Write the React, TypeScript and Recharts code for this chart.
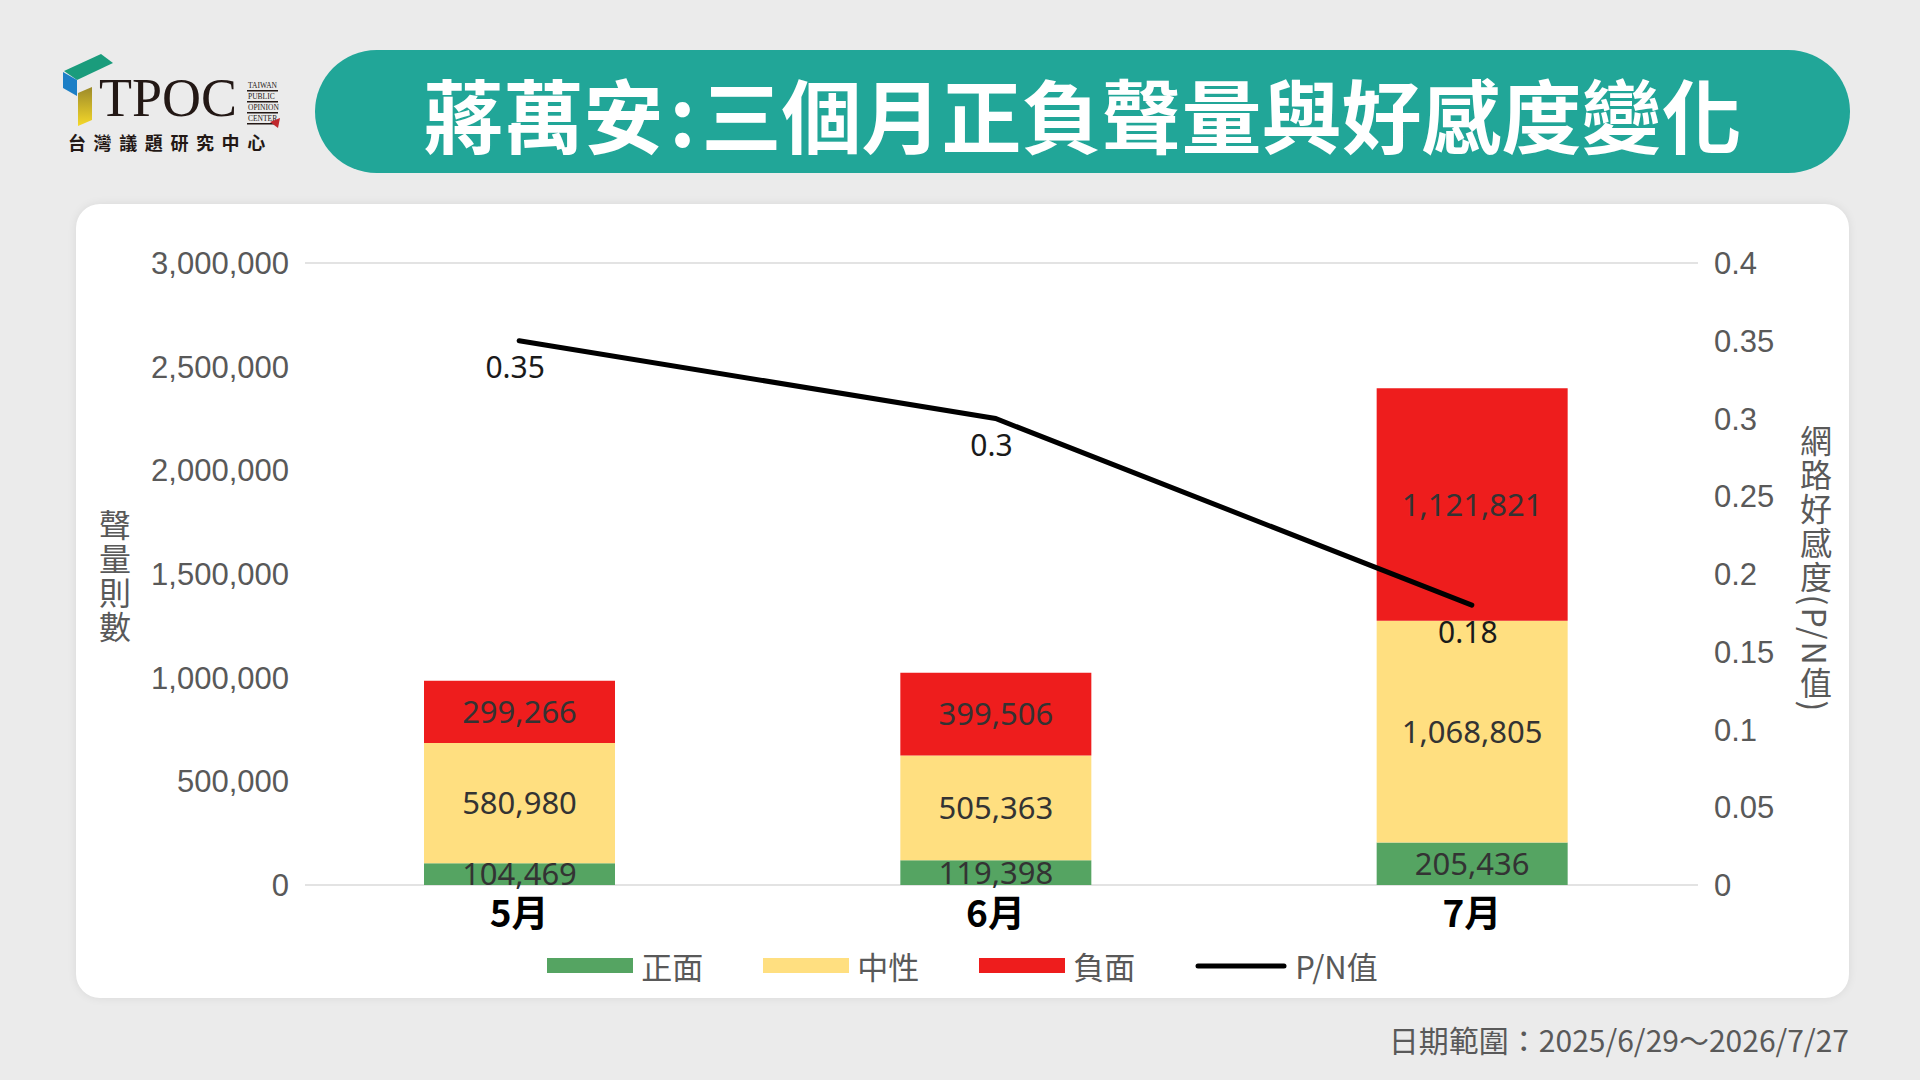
import React from 'react';
import { ComposedChart, Bar, Line, XAxis, YAxis, CartesianGrid, Legend, LabelList } from 'recharts';

const months = ['5月', '6月', '7月'];
const positive = [104469, 119398, 205436];
const neutral = [580980, 505363, 1068805];
const negative = [299266, 399506, 1121821];
const pnValues = [0.35, 0.3, 0.18];
const leftTicks = [0, 500000, 1000000, 1500000, 2000000, 2500000, 3000000];
const rightTicks = [0, 0.05, 0.1, 0.15, 0.2, 0.25, 0.3, 0.35, 0.4];
const legendOrder = ['正面', '中性', '負面', 'P/N值'];

const data = months.map((month, i) => ({
  month,
  pos: positive[i],
  neu: neutral[i],
  neg: negative[i],
  pn: pnValues[i],
}));

const CJK = '"Noto Sans CJK TC", "Noto Sans", sans-serif';
const GRAY = '#595959';

const fmt = (v: any) => Number(v).toLocaleString('en-US');

function PnLabel(props: any) {
  const { x, y, value } = props;
  return (
    <text x={x - 4} y={y + 26} textAnchor="middle" dominantBaseline="central" fontSize={30} fill="#1a1a1a" fontFamily='"Noto Sans", sans-serif'>
      {value}
    </text>
  );
}

function LegendContent(props: any) {
  const { payload = [] } = props;
  const items = [...payload].sort((a: any, b: any) => legendOrder.indexOf(a.value) - legendOrder.indexOf(b.value));
  return (
    <div style={{ display: 'flex', justifyContent: 'center', alignItems: 'center', gap: 60, fontFamily: CJK, fontSize: 31, color: GRAY }}>
      {items.map((p: any) => (
        <div key={p.value} style={{ display: 'flex', alignItems: 'center', gap: 8 }}>
          {p.type === 'line' ? (
            <svg width={92} height={16}>
              <line x1={3} y1={8} x2={89} y2={8} stroke={p.color} strokeWidth={5} strokeLinecap="round" />
            </svg>
          ) : (
            <div style={{ width: 86, height: 15, background: p.color }} />
          )}
          <span style={{ lineHeight: 1 }}>{p.value}</span>
        </div>
      ))}
    </div>
  );
}

function Logo() {
  return (
    <svg width={300} height={170} style={{ position: 'absolute', left: 0, top: 0 }}>
      <defs>
        <linearGradient id="yel" x1="0" y1="0" x2="0" y2="1">
          <stop offset="0" stopColor="#9c8a2a" />
          <stop offset="1" stopColor="#f5d829" />
        </linearGradient>
      </defs>
      <polygon points="64,71 101,54 113,63 77,80" fill="#1a9c7c" />
      <polygon points="63,72 77,80 77,96 63,88" fill="#1c7fc6" />
      <polygon points="78,93 92,87 92,120 78,126" fill="url(#yel)" />
      <text x={99} y={116} fontFamily='"Liberation Serif", serif' fontSize={54} fill="#231815">TPOC</text>
      {['TAIWAN', 'PUBLIC', 'OPINION', 'CENTER'].map((w, i) => (
        <g key={w}>
          <text x={248} y={88 + i * 11} fontFamily='"Liberation Serif", serif' fontSize={7.5} fill="#231815">{w}</text>
          <rect x={247} y={90 + i * 11} width={31} height={1.5} fill="#231815" />
        </g>
      ))}
      <polygon points="270,122 280,118 278,128" fill="#c0282d" />
      <text x={68} y={150} fontFamily={CJK} fontWeight={700} fontSize={18} letterSpacing={7.6} fill="#231815">台灣議題研究中心</text>
    </svg>
  );
}

export default function App() {
  return (
    <div style={{ position: 'absolute', left: 0, top: 0, width: 1920, height: 1080, background: '#ebebeb', overflow: 'hidden' }}>
      <Logo />
      <div
        style={{
          position: 'absolute', left: 315, top: 50, width: 1535, height: 123, borderRadius: 62,
          background: '#21a698', color: '#fff', fontFamily: CJK, fontWeight: 700, fontSize: 80,
          display: 'flex', alignItems: 'center', justifyContent: 'center', lineHeight: 1,
        }}
      >
        蔣萬安<span style={{ margin: '0 6px' }}>:</span>三個月正負聲量與好感度變化
      </div>
      <div
        style={{
          position: 'absolute', left: 76, top: 204, width: 1773, height: 794, borderRadius: 24,
          background: '#fff', boxShadow: '0 0 10px rgba(0,0,0,0.08)',
        }}
      />
      <div style={{ position: 'absolute', left: 0, top: 0 }}>
        <ComposedChart width={1920} height={1080} data={data} margin={{ top: 263, right: 142, bottom: 135, left: 225 }}>
          <CartesianGrid horizontal vertical={false} stroke="#e3e3e3" strokeWidth={2} />
          <XAxis
            dataKey="month"
            height={60}
            padding={{ left: -24, right: -12 }}
            axisLine={false}
            tickLine={false}
            tickMargin={10}
            tick={{ fill: '#000', fontSize: 37, fontWeight: 700, fontFamily: CJK }}
          />
          <YAxis
            yAxisId="left"
            width={80}
            domain={[0, 3000000]}
            ticks={leftTicks}
            interval={0}
            axisLine={false}
            tickLine={false}
            tickMargin={10}
            tickFormatter={fmt}
            tick={{ fill: GRAY, fontSize: 31, fontFamily: '"Liberation Sans", Arial, sans-serif' }}
            label={{
              content: () => (
                <text x={115} y={577} textAnchor="middle" fontSize={32} fill={GRAY} fontFamily={CJK} letterSpacing={2} style={{ writingMode: 'vertical-rl' }}>
                  聲量則數
                </text>
              ),
            }}
          />
          <YAxis
            yAxisId="right"
            orientation="right"
            width={80}
            domain={[0, 0.4]}
            ticks={rightTicks}
            interval={0}
            axisLine={false}
            tickLine={false}
            tickMargin={10}
            tickFormatter={(v: any) => String(v)}
            tick={{ fill: GRAY, fontSize: 31, fontFamily: '"Liberation Sans", Arial, sans-serif', textAnchor: 'start' }}
            label={{
              content: () => (
                <text x={1816} y={569} textAnchor="middle" fontSize={32} fill={GRAY} fontFamily={CJK} letterSpacing={2} style={{ writingMode: 'vertical-rl', textOrientation: 'mixed' } as any}>
                  網路好感度(P/N值)
                </text>
              ),
            }}
          />
          <Legend verticalAlign="middle" layout="horizontal" align="center" wrapperStyle={{ top: 950, left: 76, width: 1773, height: 40 }} content={<LegendContent />} />
          <Bar yAxisId="left" dataKey="pos" name="正面" stackId="a" fill="#55a462" barSize={191} isAnimationActive={false}>
            <LabelList dataKey="pos" position="center" formatter={fmt} fill="#333" fontSize={31} fontFamily='"Noto Sans", sans-serif' />
          </Bar>
          <Bar yAxisId="left" dataKey="neu" name="中性" stackId="a" fill="#ffdf80" barSize={191} isAnimationActive={false}>
            <LabelList dataKey="neu" position="center" formatter={fmt} fill="#333" fontSize={31} fontFamily='"Noto Sans", sans-serif' />
          </Bar>
          <Bar yAxisId="left" dataKey="neg" name="負面" stackId="a" fill="#ee1d1d" barSize={191} isAnimationActive={false}>
            <LabelList dataKey="neg" position="center" formatter={fmt} fill="#333" fontSize={31} fontFamily='"Noto Sans", sans-serif' />
          </Bar>
          <Line yAxisId="right" dataKey="pn" name="P/N值" type="linear" stroke="#000" strokeWidth={5} strokeLinecap="round" dot={false} legendType="line" isAnimationActive={false}>
            <LabelList dataKey="pn" content={<PnLabel />} />
          </Line>
        </ComposedChart>
      </div>
      <div style={{ position: 'absolute', right: 71, top: 1024, fontFamily: CJK, fontSize: 30, color: GRAY, lineHeight: 1, whiteSpace: 'nowrap' }}>
        日期範圍：2025/6/29～2026/7/27
      </div>
    </div>
  );
}
